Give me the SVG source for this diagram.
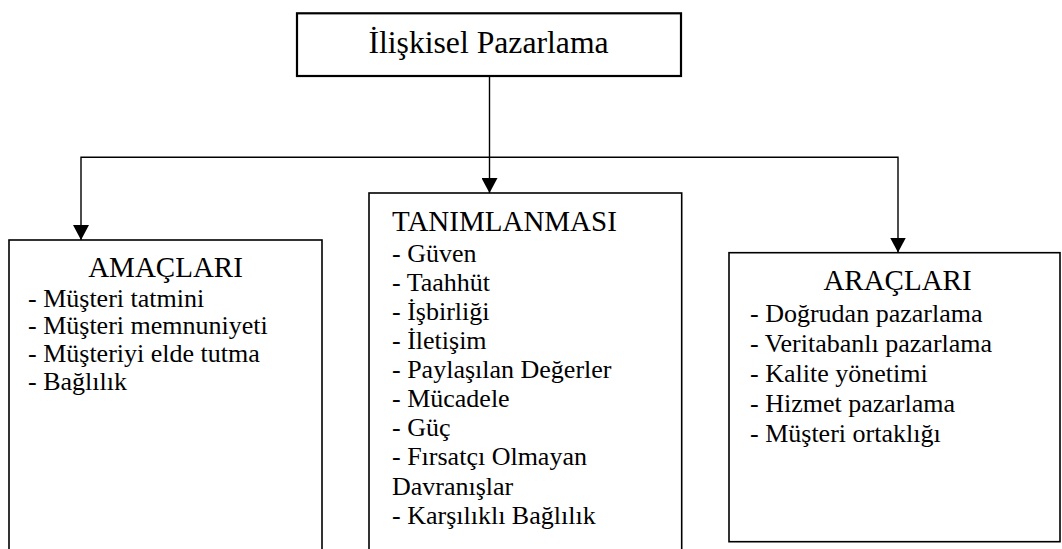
<svg xmlns="http://www.w3.org/2000/svg" width="1062" height="549" viewBox="0 0 1062 549">
  <style>
    .box { fill: #ffffff; stroke: #000000; stroke-width: 1.6; }
    .conn { fill: none; stroke: #000000; stroke-width: 1.4; }
    .main { font-size: 31.7px; }
    .head { font-size: 29px; }
    .item { font-size: 26px; }
  </style>
  <defs>
    <marker id="arrow" viewBox="0 0 15 16" refX="15" refY="8" markerWidth="15" markerHeight="16" markerUnits="userSpaceOnUse" orient="auto">
      <path d="M0,0 L15,8 L0,16 Z" fill="#000000"/>
    </marker>
  </defs>
  <rect width="1062" height="549" fill="#ffffff"/>

  <g id="connectors">
    <line class="conn" x1="489.5" y1="76" x2="489.5" y2="193" marker-end="url(#arrow)"/>
    <path class="conn" d="M489.5,157.3 H81 V240" marker-end="url(#arrow)"/>
    <path class="conn" d="M489.5,157.3 H898 V252.5" marker-end="url(#arrow)"/>
  </g>

  <g font-family="Liberation Serif, Times New Roman, serif" fill="#000000">
  <g id="node-root">
    <rect class="box" x="297" y="13.3" width="384" height="62.7" style="stroke-width:2.2"/>
    <text class="main" x="488.5" y="53.3" text-anchor="middle">İlişkisel Pazarlama</text>
  </g>

  <g id="node-amaclari">
    <rect class="box" x="9" y="240" width="313" height="330"/>
    <text class="head" x="165.5" y="276.7" text-anchor="middle">AMAÇLARI</text>
    <text class="item" x="28" y="306.7">- Müşteri tatmini</text>
    <text class="item" x="28" y="334.3">- Müşteri memnuniyeti</text>
    <text class="item" x="28" y="361.7">- Müşteriyi elde tutma</text>
    <text class="item" x="28" y="389.7">- Bağlılık</text>
  </g>

  <g id="node-tanimlanmasi">
    <rect class="box" x="369" y="193" width="312.7" height="380"/>
    <text class="head" x="392" y="231">TANIMLANMASI</text>
    <text class="item" x="392" y="261.7">- Güven</text>
    <text class="item" x="392" y="290.7">- Taahhüt</text>
    <text class="item" x="392" y="319.9">- İşbirliği</text>
    <text class="item" x="392" y="349">- İletişim</text>
    <text class="item" x="392" y="378.1">- Paylaşılan Değerler</text>
    <text class="item" x="392" y="407.2">- Mücadele</text>
    <text class="item" x="392" y="436.3">- Güç</text>
    <text class="item" x="392" y="465.4">- Fırsatçı Olmayan</text>
    <text class="item" x="392" y="494.5">Davranışlar</text>
    <text class="item" x="392" y="523.5">- Karşılıklı Bağlılık</text>
  </g>

  <g id="node-araclari">
    <rect class="box" x="729" y="252.7" width="331" height="289"/>
    <text class="head" x="897.5" y="290" text-anchor="middle">ARAÇLARI</text>
    <text class="item" x="750" y="321.7">- Doğrudan pazarlama</text>
    <text class="item" x="750" y="351.7">- Veritabanlı pazarlama</text>
    <text class="item" x="750" y="381.7">- Kalite yönetimi</text>
    <text class="item" x="750" y="411.7">- Hizmet pazarlama</text>
    <text class="item" x="750" y="441.7">- Müşteri ortaklığı</text>
  </g>
  </g>
</svg>
